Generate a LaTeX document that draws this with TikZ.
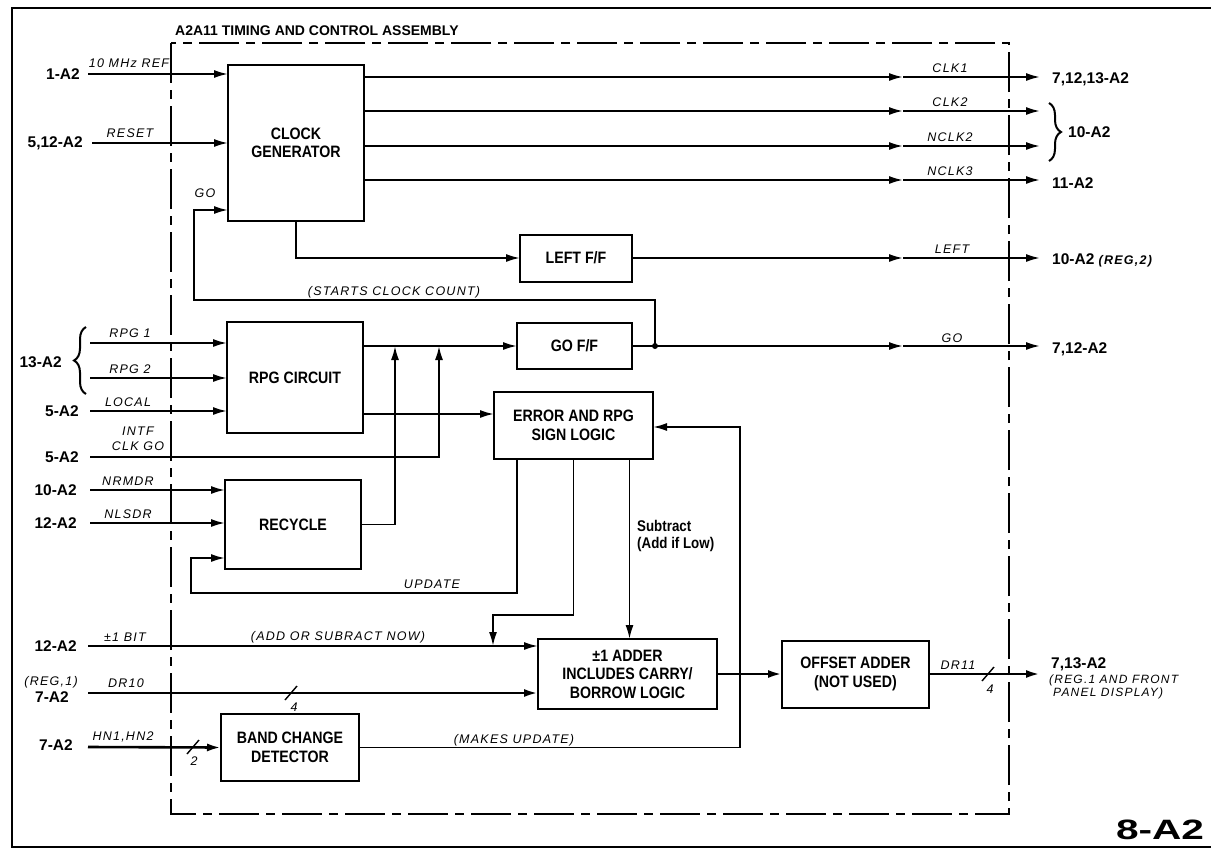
\documentclass[tikz,border=0pt]{standalone}
\usepackage{fontspec}
\setmainfont{Liberation Sans}
\newfontfamily\condfam[FakeStretch=0.86]{Liberation Sans}
\newfontfamily\spacedfam[LetterSpace=10]{Liberation Sans}
\newfontfamily\widefam[FakeStretch=1.45]{Liberation Sans}
\usetikzlibrary{arrows.meta,decorations.pathreplacing,calc}
\newcommand\myboxfont{\condfam\bfseries\fontsize{16.5}{18.5}\selectfont}
\newcommand\mysigfont{\spacedfam\itshape\fontsize{12.5}{14}\selectfont}
\newcommand\myportfont{\bfseries\fontsize{15.5}{17}\selectfont}
\newcommand\mynotefont{\condfam\bfseries\fontsize{15.5}{17}\selectfont}
\tikzset{
  blk/.style={draw, line width=2pt, inner sep=0pt, outer sep=0pt, align=center, font=\myboxfont},
  wire/.style={line width=1.9pt},
  arr/.style={wire, -{Latex[length=14pt,width=8pt]}},
  busarr/.style={line width=2.6pt, -{Latex[length=14pt,width=8pt]}},
  sig/.style={font=\mysigfont, inner sep=0pt},
  port/.style={font=\myportfont, inner sep=0pt, anchor=east},
  dest/.style={font=\myportfont, inner sep=0pt, anchor=west},
  slashmark/.style={line width=1.4pt},
  brc/.style={line width=2pt, decorate, decoration={brace, amplitude=12pt}},
  frame/.style={line width=2pt},
  asm/.style={line width=2pt, dash pattern=on 40pt off 7pt on 9pt off 7pt},
}
\begin{document}
\begin{tikzpicture}[x=1pt,y=-1pt]
\useasboundingbox (0,0) rectangle (1211,852);
% frames
\draw[frame] (1211,8) -- (12,8) -- (12,847) -- (1211,847);
\draw[asm] (171,43) rectangle (1009,814);
\node[anchor=west, font=\bfseries\fontsize{14}{16}\selectfont, inner sep=0pt] (title) at (175,31) {A2A11 TIMING AND CONTROL ASSEMBLY};

% blocks
\node[blk, minimum width=136pt, minimum height=156pt] (clk) at (296,143) {CLOCK\\GENERATOR};
\node[blk, minimum width=112pt, minimum height=47pt] (leftff) at (576,258) {LEFT F/F};
\node[blk, minimum width=115pt, minimum height=46pt] (goff) at (574.5,346) {GO F/F};
\node[blk, minimum width=136pt, minimum height=111pt] (rpg) at (295,377.5) {RPG CIRCUIT};
\node[blk, minimum width=159pt, minimum height=67pt] (err) at (573.5,425.5) {ERROR AND RPG\\SIGN LOGIC};
\node[blk, minimum width=136pt, minimum height=89pt] (rec) at (293,524.5) {RECYCLE};
\node[blk, minimum width=179pt, minimum height=70pt] (adder) at (627.5,674) {±1 ADDER\\INCLUDES CARRY/\\BORROW LOGIC};
\node[blk, minimum width=147pt, minimum height=67pt] (offset) at (855.5,674) {OFFSET ADDER\\(NOT USED)};
\node[blk, minimum width=138pt, minimum height=67pt] (band) at (290,747.5) {BAND CHANGE\\DETECTOR};

% coordinates
\coordinate (i1) at (88,74);
\coordinate (i2) at (92,143);
\coordinate (i3) at (90,343);
\coordinate (i4) at (90,378);
\coordinate (i5) at (90,411);
\coordinate (i6) at (90,457);
\coordinate (i7) at (90,490);
\coordinate (i8) at (90,523);
\coordinate (i9) at (88,646);
\coordinate (i10) at (88,693);
\coordinate (i11) at (88,747);
\coordinate (m1) at (903,77);
\coordinate (m2) at (903,111);
\coordinate (m3) at (903,146);
\coordinate (m4) at (903,180);
\coordinate (m5) at (903,258);
\coordinate (m6) at (903,346);
\coordinate (o1) at (1040,77);
\coordinate (o2) at (1040,111);
\coordinate (o3) at (1040,146);
\coordinate (o4) at (1040,180);
\coordinate (o5) at (1040,258);
\coordinate (o6) at (1040,346);
\coordinate (o7) at (1040,674);
\coordinate (gd) at (655,346);
\coordinate (sc) at (655,300);
\coordinate (gofb) at (194,210);
\coordinate (j1) at (395,346);
\coordinate (j2) at (439,346);
\coordinate (ein) at ([yshift=11.5pt]err.west);
\coordinate (u0) at ([xshift=-56.5pt]err.south);
\coordinate (u1) at (191,593);
\coordinate (u2) at (191,558);
\coordinate (v1) at (493,615);
\coordinate (v2) at (493,646);
\coordinate (w0) at ([xshift=56pt]err.south);
\coordinate (fb) at (740,427);

% clock inputs
\draw[arr] (i1) -- (i1 -| clk.west);
\draw[arr] (i2) -- (i2 -| clk.west);
\draw[arr] (gd) -- (sc) -| (gofb) -- (gofb -| clk.west);
\fill (gd) circle (3pt);

% clock outputs
\draw[arr] (m1 -| clk.east) -- (m1);
\draw[arr] (m1) -- (o1);
\draw[arr] (m2 -| clk.east) -- (m2);
\draw[arr] (m2) -- (o2);
\draw[arr] (m3 -| clk.east) -- (m3);
\draw[arr] (m3) -- (o3);
\draw[arr] (m4 -| clk.east) -- (m4);
\draw[arr] (m4) -- (o4);

% left f/f
\draw[arr] (clk.south) |- (leftff.west);
\draw[arr] (leftff.east) -- (m5);
\draw[arr] (m5) -- (o5);

% go f/f
\draw[arr] (rpg.east |- goff.west) -- (goff.west);
\draw[wire] (goff.east) -- (gd);
\draw[arr] (gd) -- (m6);
\draw[arr] (m6) -- (o6);

% rpg inputs
\draw[arr] (i3) -- (i3 -| rpg.west);
\draw[arr] (i4) -- (i4 -| rpg.west);
\draw[arr] (i5) -- (i5 -| rpg.west);
\draw[arr] (rpg.east |- ein) -- (ein);
\draw[arr] (i6) -| (j2);

% recycle
\draw[arr] (i7) -- (i7 -| rec.west);
\draw[arr] (i8) -- (i8 -| rec.west);
\draw[arr] (rec.east) -| (j1);

% error logic outputs
\draw[arr] (u0) |- (u1) -- (u2) -- (u2 -| rec.west);
\draw[arr] (err.south) |- (v1) -- (v2);
\draw[arr] (w0) -- (w0 |- adder.north);

% feedback
\draw[arr] (band.east) -| (fb) -- (fb -| err.east);

% adder
\draw[arr] (i9) -- (i9 -| adder.west);
\draw[busarr] (i10) -- (i10 -| adder.west);
\draw[busarr] (i11) -- (band.west);
\draw[busarr] (adder.east) -- (offset.west);
\draw[busarr] (offset.east) -- (o7);

% bus slashes
\draw[slashmark] (285,700) -- (297,686);
\draw[slashmark] (187,754) -- (199,740);
\draw[slashmark] (982,681) -- (994,667);
\node[sig] (n4a) at (294,707) {4};
\node[sig] (n2) at (194,761) {2};
\node[sig] (n4b) at (990,689) {4};

% braces
\draw[brc] (86,394) -- (86,327);
\draw[brc] (1049,103) -- (1049,161);

% port labels (left)
\node[port] (p1) at (80,74) {1-A2};
\node[port] (p2) at (83,143) {5,12-A2};
\node[port] (p3) at (62,362) {13-A2};
\node[port] (p4) at (79,411) {5-A2};
\node[port] (p5) at (79,457) {5-A2};
\node[port] (p6) at (77,490) {10-A2};
\node[port] (p7) at (77,523) {12-A2};
\node[port] (p8) at (77,646) {12-A2};
\node[sig, anchor=east] (p9a) at (78,682) {(REG,1)};
\node[port] (p9) at (69,697) {7-A2};
\node[port] (p10) at (73,745) {7-A2};

% destination labels (right)
\node[dest] (d1) at (1052,79) {7,12,13-A2};
\node[dest] (d2) at (1068,132) {10-A2};
\node[dest] (d3) at (1052,183) {11-A2};
\node[dest] (d4) at (1052,260) {10-A2 {\mysigfont (REG,2)}};
\node[dest] (d5) at (1052,349) {7,12-A2};
\node[dest] (d6) at (1051,664) {7,13-A2};
\node[sig, anchor=north west, align=left, font=\spacedfam\itshape\fontsize{12}{12.5}\selectfont] (d7) at (1049,675) {(REG.1 AND FRONT\\\hspace*{4pt}PANEL DISPLAY)};

% signal labels
\node[sig] (s1) at (129,63) {10 MHz REF};
\node[sig] (s2) at (130,133) {RESET};
\node[sig] (s3) at (205,193) {GO};
\node[sig] (s4) at (394,292) {(STARTS CLOCK COUNT)};
\node[sig] (s5) at (130,333) {RPG 1};
\node[sig] (s6) at (130,369) {RPG 2};
\node[sig] (s7) at (128,402) {LOCAL};
\node[sig, align=center, font=\spacedfam\itshape\fontsize{12.5}{15}\selectfont] (s8) at (138,439) {INTF\\CLK GO};
\node[sig] (s9) at (128,481) {NRMDR};
\node[sig] (s10) at (128,514) {NLSDR};
\node[sig] (s11) at (432,584) {UPDATE};
\node[sig] (s12) at (125,637) {±1 BIT};
\node[sig] (s13) at (338,637) {(ADD OR SUBRACT NOW)};
\node[sig] (s14) at (126,683) {DR10};
\node[sig] (s15) at (123,737) {HN1,HN2};
\node[sig] (s16) at (514,740) {(MAKES UPDATE)};
\node[sig] (s17) at (950,68) {CLK1};
\node[sig] (s18) at (950,102) {CLK2};
\node[sig] (s19) at (950,137) {NCLK2};
\node[sig] (s20) at (950,171) {NCLK3};
\node[sig] (s21) at (952,249) {LEFT};
\node[sig] (s22) at (952,338) {GO};
\node[sig] (s23) at (958,665) {DR11};
\node[anchor=north west, align=left, inner sep=0pt, font=\mynotefont] (s24) at (637,520) {Subtract\\(Add if Low)};

% sheet number
\node[font=\widefam\bfseries\fontsize{28}{30}\selectfont, inner sep=0pt] (sheet) at (1160,830) {8-A2};
\end{tikzpicture}
\end{document}
